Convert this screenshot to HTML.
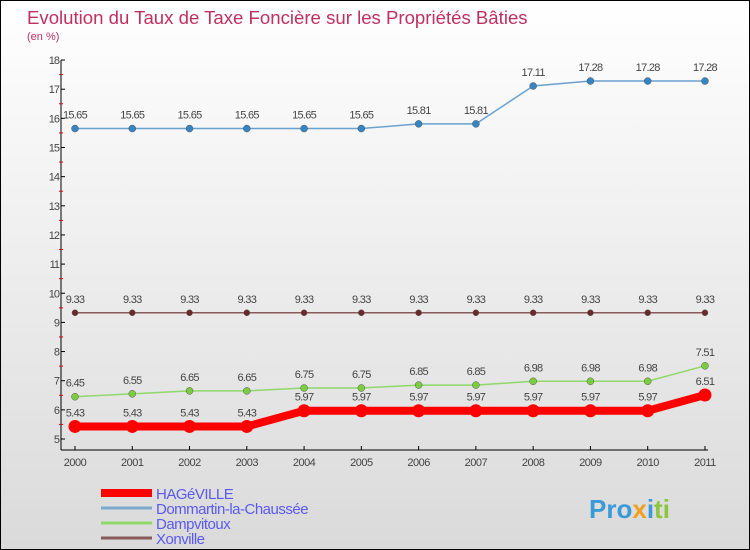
<!DOCTYPE html>
<html><head><meta charset="utf-8"><style>
body{margin:0}
#c{width:748px;height:548px;border:1px solid #000;background:linear-gradient(#fff,#f4f4f4 30%,#dadada);position:relative;font-family:"Liberation Sans",sans-serif}
</style></head><body>
<div id="c">
<svg id="s" width="748" height="548" style="position:absolute;left:0;top:0">
<text x="26" y="23" font-size="18.6" fill="#c0305f">Evolution du Taux de Taxe Foncière sur les Propriétés Bâties</text>
<text x="26" y="39" font-size="11" fill="#c0305f">(en %)</text>
<g id="ax"></g><g id="series"></g>
<text x="588" y="517" font-size="26" font-weight="bold" fill="#3a9ad9">Pro<tspan fill="#f0a020">x</tspan><tspan fill="#3a9ad9">i</tspan><tspan fill="#8cc63f">ti</tspan></text>
</svg>
</div>
<script>
const years=["2000","2001","2002","2003","2004","2005","2006","2007","2008","2009","2010","2011"];
const yTicks=[5,6,7,8,9,10,11,12,13,14,15,16,17,18];
const hageville=[5.43,5.43,5.43,5.43,5.97,5.97,5.97,5.97,5.97,5.97,5.97,6.51];
const dommartin=[15.65,15.65,15.65,15.65,15.65,15.65,15.81,15.81,17.11,17.28,17.28,17.28];
const dampvitoux=[6.45,6.55,6.65,6.65,6.75,6.75,6.85,6.85,6.98,6.98,6.98,7.51];
const xonville=[9.33,9.33,9.33,9.33,9.33,9.33,9.33,9.33,9.33,9.33,9.33,9.33];
const NS="http://www.w3.org/2000/svg";
const X=i=>74+i*57.27, Y=v=>438-(v-5)*29.15;
function mk(t,a,p){const e=document.createElementNS(NS,t);for(const k in a)e.setAttribute(k,a[k]);p.appendChild(e);return e;}
const ax=document.getElementById('ax'),sg=document.getElementById('series');
let e=mk('line',{x1:60,y1:Y(18),x2:60,y2:449,stroke:'#000'},ax);

e=mk('line',{x1:60,y1:449,x2:X(11)+3,y2:449,stroke:'#000'},ax);

yTicks.forEach(v=>{
 mk('line',{x1:60,y1:Y(v),x2:64,y2:Y(v),stroke:'#000'},ax);
 if(v<18)mk('line',{x1:58,y1:Y(v+0.5),x2:62,y2:Y(v+0.5),stroke:'#e00'},ax);
 const t=mk('text',{x:58,y:Y(v)+4,'font-size':11,fill:'#444','text-anchor':'end','letter-spacing':'-1'},ax);t.textContent=v;
 
});
years.forEach((y,i)=>{
 mk('line',{x1:X(i),y1:445,x2:X(i),y2:449,stroke:'#000'},ax);
 const t=mk('text',{x:X(i),y:465,'font-size':11,fill:'#444','text-anchor':'middle','letter-spacing':'-0.5'},ax);t.textContent=y;
 
});
function series(d,col,dot,w,r,name){
 const g=mk('g',{},sg);
 mk('polyline',{points:d.map((v,i)=>X(i)+','+Y(v)).join(' '),fill:'none',stroke:col,'stroke-width':w},g);
 d.forEach((v,i)=>{
  const c=mk('circle',{cx:X(i),cy:Y(v),r:r,fill:dot,stroke:w>3?'none':'#555','stroke-width':0.5},g);
  
  const t=mk('text',{x:X(i),y:Y(v)-10,'font-size':11,fill:'#444','text-anchor':'middle','letter-spacing':'-0.7'},g);t.textContent=v;
  
 });
}
series(xonville,'#8a5a5a','#6b2a2a',1.5,3,'xonville-series');
series(dampvitoux,'#8fd86a','#7ccc3f',1.5,3.5,'dampvitoux-series');
series(dommartin,'#6aa0d0','#3585c5',1.5,3.5,'dommartin-series');
series(hageville,'#f00','#f00',8,6.5,'hageville-series');
const leg=[["HAGéVILLE","#f00",8],["Dommartin-la-Chaussée","#7aaad0",3],["Dampvitoux","#8fd86a",3],["Xonville","#8a5a5a",3]];
leg.forEach((l,i)=>{
 const g=mk('g',{},sg);
 const y=492+i*15;
 mk('line',{x1:100,y1:y,x2:151,y2:y,stroke:l[1],'stroke-width':l[2]},g);
 const t=mk('text',{x:155,y:y+6,'font-size':15,fill:'#5a5af0','letter-spacing':'-0.5'},g);t.textContent=l[0];
});
</script>
</body></html>
